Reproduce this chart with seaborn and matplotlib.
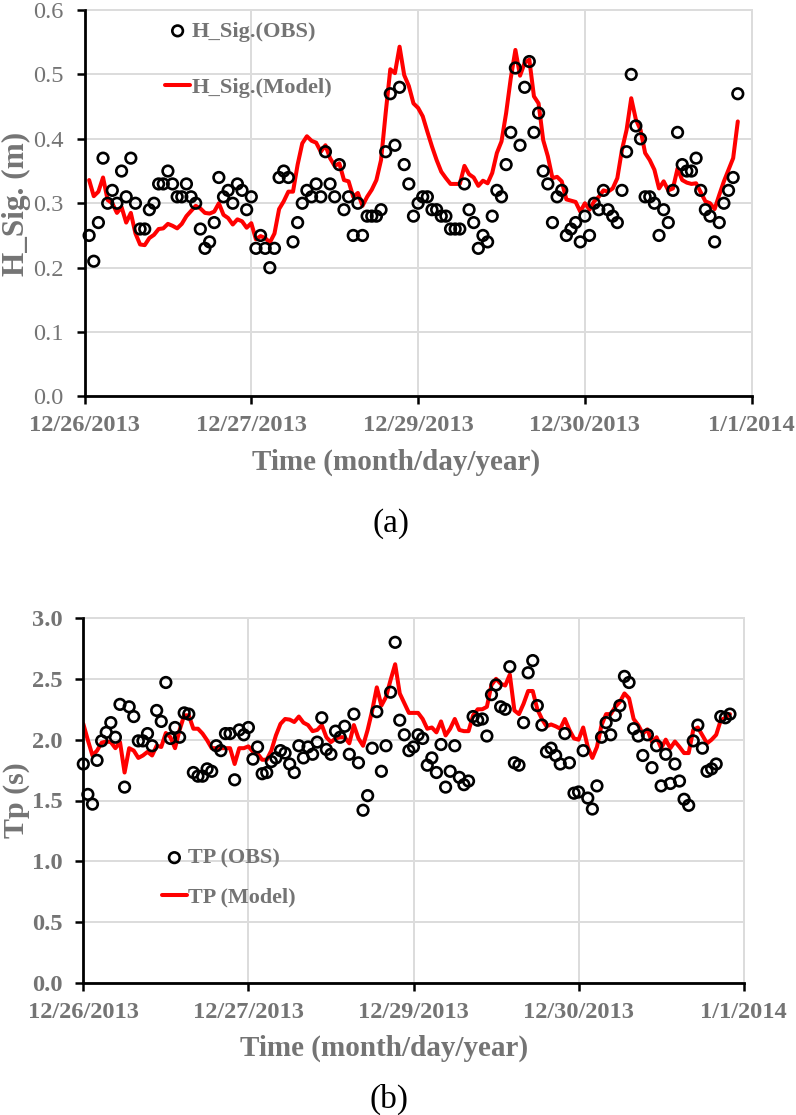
import numpy as np
import pandas as pd
import seaborn as sns
import matplotlib
matplotlib.use("Agg")
import matplotlib.pyplot as plt

x_tick_labels = ["12/26/2013", "12/27/2013", "12/29/2013", "12/30/2013", "1/1/2014"]

hs_obs = [0.25,0.21,0.27,0.37,0.30,0.32,0.30,0.35,0.31,0.37,0.30,0.26,0.26,0.29,0.30,0.33,0.33,0.35,0.33,0.31,
          0.31,0.33,0.31,0.30,0.26,0.23,0.24,0.27,0.34,0.31,0.32,0.30,0.33,0.32,0.29,0.31,0.23,0.25,0.23,0.20,
          0.23,0.34,0.35,0.34,0.24,0.27,0.30,0.32,0.31,0.33,0.31,0.38,0.33,0.31,0.36,0.29,0.31,0.25,0.30,0.25,
          0.28,0.28,0.28,0.29,0.38,0.47,0.39,0.48,0.36,0.33,0.28,0.30,0.31,0.31,0.29,0.29,0.28,0.28,0.26,0.26,
          0.26,0.33,0.29,0.27,0.23,0.25,0.24,0.28,0.32,0.31,0.36,0.41,0.51,0.39,0.48,0.52,0.41,0.44,0.35,0.33,
          0.27,0.31,0.32,0.25,0.26,0.27,0.24,0.28,0.25,0.30,0.29,0.32,0.29,0.28,0.27,0.32,0.38,0.50,0.42,0.40,
          0.31,0.31,0.30,0.25,0.29,0.27,0.32,0.41,0.36,0.35,0.35,0.37,0.32,0.29,0.28,0.24,0.27,0.30,0.32,0.34,0.47]

hs_model = [0.336,0.311,0.318,0.34,0.305,0.30,0.285,0.294,0.27,0.285,0.253,0.236,0.235,0.246,0.251,0.26,0.261,0.268,0.265,0.261,
            0.268,0.28,0.288,0.296,0.292,0.285,0.284,0.287,0.30,0.282,0.277,0.267,0.275,0.272,0.262,0.269,0.244,0.249,0.246,0.239,
            0.253,0.291,0.303,0.318,0.318,0.36,0.393,0.404,0.397,0.394,0.38,0.39,0.37,0.358,0.362,0.336,0.334,0.31,0.316,0.296,
            0.31,0.321,0.336,0.367,0.44,0.508,0.502,0.543,0.499,0.482,0.455,0.448,0.435,0.411,0.388,0.367,0.349,0.339,0.33,0.33,
            0.33,0.358,0.345,0.34,0.327,0.335,0.331,0.347,0.378,0.396,0.44,0.494,0.538,0.498,0.518,0.523,0.466,0.455,0.398,0.373,
            0.339,0.341,0.334,0.306,0.304,0.302,0.287,0.30,0.29,0.303,0.31,0.32,0.318,0.323,0.339,0.383,0.414,0.463,0.43,0.414,
            0.378,0.367,0.352,0.323,0.334,0.32,0.323,0.354,0.336,0.332,0.33,0.331,0.317,0.303,0.30,0.291,0.313,0.334,0.352,0.37,0.427]

tp_obs = [1.80,1.55,1.47,1.83,1.99,2.06,2.14,2.02,2.29,1.61,2.27,2.19,1.99,1.99,2.05,1.95,2.24,2.15,2.47,2.01,
          2.10,2.02,2.22,2.21,1.73,1.70,1.70,1.76,1.74,1.95,1.91,2.05,2.05,1.67,2.08,2.04,2.10,1.84,1.94,1.72,
          1.73,1.82,1.85,1.91,1.89,1.80,1.73,1.95,1.85,1.94,1.88,1.98,2.18,1.92,1.88,2.07,2.02,2.11,1.88,2.21,
          1.81,1.42,1.54,1.93,2.23,1.74,1.95,2.39,2.80,2.16,2.04,1.91,1.94,2.04,2.01,1.79,1.85,1.73,1.96,1.61,
          1.74,1.95,1.69,1.63,1.66,2.19,2.16,2.17,2.03,2.37,2.45,2.27,2.25,2.60,1.81,1.79,2.14,2.55,2.65,2.28,
          2.12,1.90,1.93,1.87,1.80,2.05,1.81,1.56,1.57,1.91,1.52,1.43,1.62,2.02,2.14,2.04,2.20,2.28,2.52,2.47,
          2.09,2.03,1.87,2.04,1.77,1.95,1.62,1.88,1.64,1.80,1.66,1.51,1.46,1.99,2.12,1.93,1.74,1.76,1.80,2.19,2.18,2.21]

tp_model = [2.13,1.995,1.87,1.91,1.975,1.985,1.98,1.93,1.98,1.73,1.93,1.91,1.85,1.87,1.90,1.87,1.95,1.94,2.055,2.02,
            1.93,2.08,2.20,2.20,2.09,2.09,2.05,1.995,1.93,1.93,1.93,1.93,1.93,1.80,1.93,1.93,1.945,1.90,1.885,1.835,
            1.835,1.91,2.035,2.13,2.17,2.165,2.145,2.19,2.14,2.12,2.07,2.08,2.12,2.02,1.98,2.01,2.02,2.02,1.97,2.12,
            2.01,1.95,2.08,2.24,2.43,2.28,2.35,2.49,2.62,2.38,2.30,2.22,2.22,2.22,2.17,2.09,2.10,2.06,2.15,2.035,
            2.09,2.17,2.08,2.07,2.07,2.20,2.25,2.25,2.27,2.45,2.50,2.46,2.445,2.535,2.24,2.21,2.295,2.40,2.40,2.25,
            2.17,2.11,2.125,2.11,2.09,2.17,2.08,2.01,2.00,2.10,1.94,1.85,1.94,2.12,2.21,2.21,2.27,2.31,2.38,2.34,
            2.17,2.12,2.05,2.085,1.98,2.02,1.93,2.00,1.93,1.985,1.94,1.89,1.89,2.08,2.10,2.035,1.97,2.00,2.04,2.16,2.18,2.21]

W, H = 796, 1115
GREY = "#747474"
sns.set_theme(style="white")
plt.rcParams["font.family"] = ["Liberation Serif", "DejaVu Serif"]
fig = plt.figure(figsize=(W / 100, H / 100), dpi=100, facecolor="white")


def box(l, t, r, b):
    return [l / W, 1 - b / H, (r - l) / W, (b - t) / H]


def panel(rect, obs, model, start, ylim, yticks, ylabel, ylab_size, ylab_y, xlab_xy, names, ybold, leg_xy, spacing, legsize):
    ax = fig.add_axes(box(*rect))
    d_obs = pd.DataFrame({"t": np.arange(len(obs)) + start, "v": obs})
    d_mod = pd.DataFrame({"t": np.arange(len(model)) + start, "v": model})
    sns.scatterplot(data=d_obs, x="t", y="v", ax=ax, s=58, facecolors="none", edgecolor="black",
                    linewidth=1.9, label=names[0], zorder=4, clip_on=False)
    sns.lineplot(data=d_mod, x="t", y="v", ax=ax, color="#ff0000", linewidth=2.9, label=names[1],
                 zorder=3, errorbar=None)
    ax.set_xlim(0, 144)
    ax.set_ylim(*ylim)
    ax.set_xticks(np.arange(0, 145, 36))
    ax.set_xticklabels(x_tick_labels, fontsize=17.6, fontweight="bold", color=GREY)
    ax.set_yticks(yticks)
    ax.set_yticklabels([f"{v:.1f}" for v in yticks], fontsize=17.6, color=GREY,
                       fontweight="bold" if ybold else "normal")
    ax.grid(True, color="#dcdcdc", linewidth=1.4, zorder=0)
    ax.set_axisbelow(True)
    for s in ("top", "right"):
        ax.spines[s].set_color("#dcdcdc")
        ax.spines[s].set_linewidth(1.4)
    for s in ("left", "bottom"):
        ax.spines[s].set_color("black")
        ax.spines[s].set_linewidth(2.0)
        ax.spines[s].set_zorder(5)
    ax.tick_params(axis="x", length=5.5, width=1.8, color="black", direction="out", bottom=True, pad=8)
    ax.tick_params(axis="y", length=5.5, width=1.8, color="black", direction="out", left=True, pad=9.5)
    ax.set_xlabel("Time (month/day/year)", fontsize=21, fontweight="bold", color=GREY)
    ax.set_ylabel(ylabel, fontsize=ylab_size, fontweight="bold", color=GREY)
    ax.xaxis.set_label_coords(xlab_xy[0] / W, 1 - xlab_xy[1] / H, transform=fig.transFigure)
    ax.xaxis.label.set_verticalalignment("center")
    ax.yaxis.set_label_coords(16 / W, 1 - ylab_y / H, transform=fig.transFigure)
    ax.yaxis.label.set_verticalalignment("center")
    handles, labels = ax.get_legend_handles_labels()
    ax.legend(handles, labels, loc="upper left", bbox_to_anchor=(leg_xy[0] / W, 1 - leg_xy[1] / H),
              bbox_transform=fig.transFigure, frameon=False, borderpad=0, borderaxespad=0,
              handlelength=1.12, handletextpad=0.05, labelspacing=spacing,
              prop={"family": "Liberation Serif", "weight": "bold", "size": legsize}, labelcolor=GREY)
    return ax


panel((84.5, 10, 751.7, 396.5), hs_obs, hs_model, 1, (0, 0.6), [0, 0.1, 0.2, 0.3, 0.4, 0.5, 0.6],
      "H_Sig. (m)", 22.5, 203.5, (396, 462), ["H_Sig.(OBS)", "H_Sig.(Model)"], False, (165, 21), 1.58, 16.2)
panel((83.3, 618, 743.7, 983), tp_obs, tp_model, 0, (0, 3), [0, 0.5, 1, 1.5, 2, 2.5, 3],
      "Tp (s)", 21.6, 800, (384, 1048), ["TP (OBS)", "TP (Model)"], True, (162, 848), 0.83, 15.9)

fig.text(391 / W, 1 - 524 / H, "(a)", fontsize=24, color="black", ha="center", va="center")
fig.text(389 / W, 1 - 1099 / H, "(b)", fontsize=24, color="black", ha="center", va="center")

fig.savefig("out.png", dpi=100, facecolor="white")
